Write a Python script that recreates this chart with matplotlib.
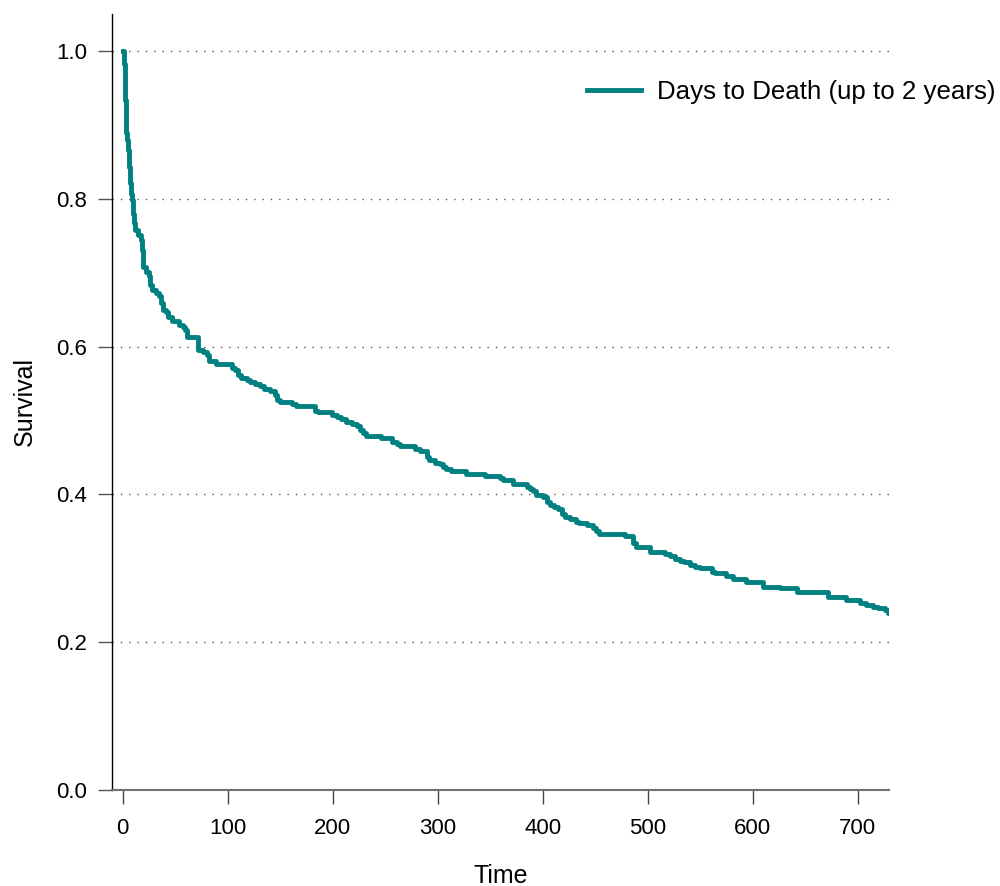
import matplotlib
matplotlib.use("Agg")
import matplotlib.pyplot as plt

plt.rcParams['font.family'] = ['Liberation Sans', 'DejaVu Sans']

# Kaplan-Meier estimate, days to death (censored at 730 days)
days = [0, 1, 2, 3, 4, 5, 6, 7, 8, 9, 10, 11, 12, 15, 17, 18, 19, 22, 25,
        26, 28, 32, 35, 36, 38, 41, 43, 47, 54, 57, 59, 61, 72, 76, 80, 82,
        89, 104, 107, 110, 113, 118, 121, 126, 131, 135, 140, 145, 147, 150,
        161, 165, 183, 186, 199, 204, 208, 213, 218, 223, 226, 229, 232,
        246, 256, 261, 264, 278, 283, 288, 290, 292, 297, 302, 305, 308,
        313, 327, 345, 359, 362, 372, 385, 388, 391, 394, 400, 404, 407,
        411, 415, 418, 421, 426, 432, 435, 442, 448, 451, 454, 478, 486,
        489, 502, 516, 521, 526, 531, 535, 540, 545, 550, 561, 564, 575,
        581, 594, 610, 626, 642, 672, 689, 702, 708, 715, 719, 726, 729,
        730]
survival = [1.000, 0.983, 0.934, 0.889, 0.880, 0.866, 0.843, 0.821, 0.807,
            0.798, 0.780, 0.767, 0.758, 0.751, 0.744, 0.731, 0.708, 0.701,
            0.695, 0.683, 0.677, 0.672, 0.668, 0.659, 0.650, 0.647, 0.640,
            0.634, 0.629, 0.626, 0.622, 0.613, 0.595, 0.593, 0.589, 0.580,
            0.577, 0.571, 0.568, 0.562, 0.558, 0.555, 0.552, 0.549, 0.546,
            0.543, 0.540, 0.535, 0.528, 0.525, 0.522, 0.519, 0.513, 0.511,
            0.507, 0.505, 0.502, 0.498, 0.495, 0.492, 0.487, 0.483, 0.479,
            0.476, 0.471, 0.468, 0.466, 0.462, 0.459, 0.458, 0.451, 0.447,
            0.443, 0.441, 0.437, 0.434, 0.431, 0.428, 0.425, 0.422, 0.419,
            0.414, 0.410, 0.407, 0.404, 0.399, 0.397, 0.390, 0.386, 0.383,
            0.380, 0.374, 0.370, 0.366, 0.363, 0.361, 0.358, 0.355, 0.350,
            0.346, 0.343, 0.334, 0.329, 0.322, 0.319, 0.316, 0.312, 0.310,
            0.308, 0.304, 0.302, 0.300, 0.295, 0.293, 0.290, 0.286, 0.281,
            0.275, 0.273, 0.268, 0.261, 0.257, 0.253, 0.250, 0.248, 0.246,
            0.243, 0.240, 0.240]
series_label = "Days to Death (up to 2 years)"

x_ticks = [0, 100, 200, 300, 400, 500, 600, 700]
y_ticks = [0.0, 0.2, 0.4, 0.6, 0.8, 1.0]

fig = plt.figure(figsize=(10, 8.86), dpi=100)
ax = fig.add_axes([0.1122, 0.1084, 0.777, 0.8758])

ax.step(days, survival, where="post", color="#008080", linewidth=3.5,
        label=series_label)

ax.set_xlim(-10, 730)
ax.set_ylim(0, 1.05)
ax.set_xticks(x_ticks)
ax.set_yticks(y_ticks)
ax.set_yticklabels([f"{v:.1f}" for v in y_ticks])

ax.yaxis.grid(True, color="#555555", linewidth=1, linestyle=(0, (1, 5)))
ax.set_axisbelow(True)

for side in ("top", "right"):
    ax.spines[side].set_visible(False)
ax.spines["left"].set_color("black")
ax.spines["left"].set_linewidth(1)
ax.spines["bottom"].set_color("#707070")
ax.spines["bottom"].set_linewidth(1.5)

ax.tick_params(axis="x", direction="out", length=10, width=1, color="#444444",
               labelsize=16, pad=10)
ax.tick_params(axis="y", direction="out", length=10, width=1, color="#555555",
               labelsize=16, pad=8)

ax.set_xlabel("Time", fontsize=18, labelpad=18)
ax.set_ylabel("Survival", fontsize=18, labelpad=14)

fig.legend(loc="center left", bbox_to_anchor=(0.587, 1 - 92 / 886),
           frameon=False, fontsize=18.6, handlelength=2.1, handletextpad=0.6,
           borderpad=0, borderaxespad=0)

fig.savefig("out.png", dpi=100)
